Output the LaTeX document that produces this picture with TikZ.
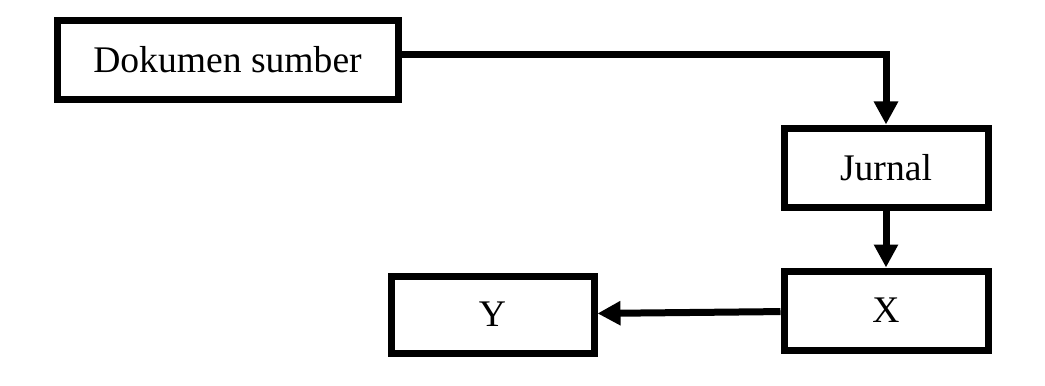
\documentclass[tikz,border=0pt]{standalone}
\usepackage{fontspec}
\setmainfont{Liberation Serif}
\usepackage{tikz}
\usetikzlibrary{arrows.meta, positioning}

\begin{document}
\begin{tikzpicture}
\tikzstyle{box} = [rectangle, minimum width=4.08cm, minimum height=1.58cm, text centered, draw=black, line width=0.14cm, font=\fontsize{21.4}{25}\selectfont]
\tikzstyle{arrow} = [line width=0.14cm, -{Triangle[width=0.46cm, length=0.46cm]}]

\useasboundingbox (0,0) rectangle (20.9,7.7);

% Boxes
\node (dok) [box, minimum width=6.82cm, minimum height=1.56cm] at (4.55,6.5) {Dokumen sumber};
\node (jur) [box] at (17.72,4.35) {Jurnal};
\node (x) [box, below=1.14cm of jur] {X};
\node (y) [box, minimum width=4.06cm, minimum height=1.54cm, left=3.66cm of x, yshift=-0.08cm] {Y};

% Connections
\draw [arrow] ([yshift=0.12cm]dok.east) -| (jur.north);
\draw [arrow] (jur) -- (x);
\draw [arrow] (x) -- (y);

\end{tikzpicture}
\end{document}
